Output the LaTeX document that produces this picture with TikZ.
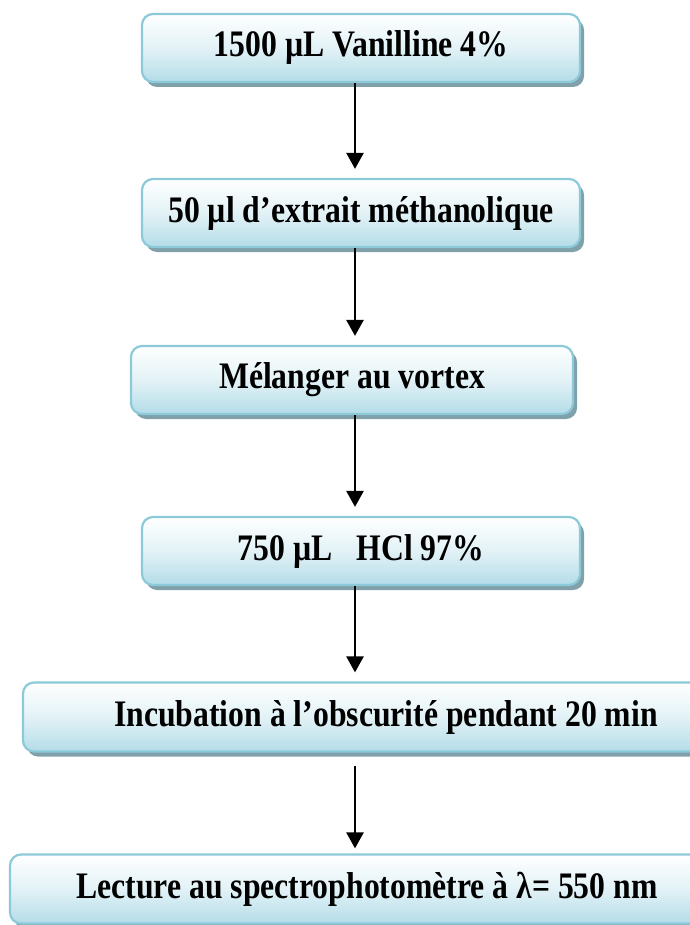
\documentclass[tikz,border=0pt]{standalone}
\usepackage{graphicx}
\usepackage{fontspec}
\setmainfont{Liberation Serif}
\usetikzlibrary{arrows.meta,shadows}
\definecolor{boxedge}{RGB}{140,202,218}
\definecolor{boxbot}{RGB}{180,220,232}
\definecolor{boxmid}{RGB}{226,242,246}
\definecolor{boxshadow}{RGB}{128,160,170}
\newcommand\talltext[1]{\raisebox{2pt}{\scalebox{1}[1.18]{#1}}}
\tikzset{
  stepbox/.style={rounded corners=11pt, draw=boxedge, line width=2.2pt,
    top color=white, bottom color=boxbot, middle color=boxmid,
    drop shadow={shadow xshift=4pt, shadow yshift=-5pt, fill=boxshadow, opacity=1},
    minimum height=68pt, inner sep=0pt,
    font=\bfseries\fontsize{31.7}{36}\selectfont, text=black},
  arr/.style={line width=2.5pt, -{Triangle[length=16pt,width=17pt]}, shorten >=9pt}
}
\begin{document}
\begin{tikzpicture}[x=1pt,y=-1pt]
\useasboundingbox (0,0) rectangle (689,925);
\coordinate (ax) at (355,0);
\node[stepbox, minimum width=438pt] (b1) at (361,48) {\talltext{1500 µL Vanilline 4\%}};
\node[stepbox, minimum width=438pt] (b2) at (361,213) {\talltext{50 µl d’extrait méthanolique}};
\node[stepbox, minimum width=442pt] (b3) at (352,380) {\talltext{Mélanger au vortex}};
\node[stepbox, minimum width=438pt] (b4) at (361,551) {\talltext{750 µL\ \ \ HCl 97\%}};
\node[stepbox, minimum width=726pt, minimum height=69pt] (b5) at (386,717) {\talltext{Incubation à l’obscurité pendant 20 min}};
\node[stepbox, minimum width=714pt, minimum height=69pt] (b6) at (367,889) {\talltext{Lecture au spectrophotomètre à λ= 550 nm}};
\draw[arr] (b1.south -| ax) -- (b2.north -| ax);
\draw[arr] (b2.south -| ax) -- (b3.north -| ax);
\draw[arr] (b3.south -| ax) -- (b4.north -| ax);
\draw[arr] (b4.south -| ax) -- (b5.north -| ax);
\draw[arr, shorten <=13pt, shorten >=5pt] (b5.south -| ax) -- (b6.north -| ax);
\end{tikzpicture}
\end{document}
